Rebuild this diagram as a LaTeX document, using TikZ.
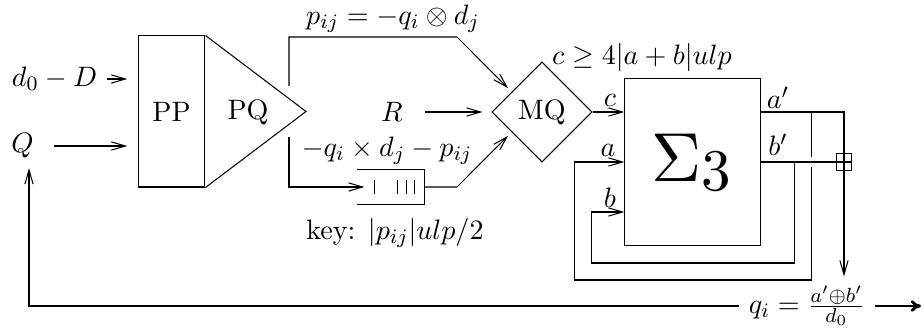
\documentclass[tikz,border=0pt,11pt]{standalone}
\usepackage{amsmath,amssymb}
\usetikzlibrary{arrows.meta,positioning,calc,shapes.geometric}
\tikzset{
  blockbox/.style={draw, thin, minimum width=26.1pt, minimum height=58.9pt, inner sep=0pt},
  sumbox/.style={draw, thin, minimum width=52.7pt, minimum height=65.5pt, inner sep=0pt},
  mqdiamond/.style={draw, thin, diamond, minimum width=39pt, minimum height=39pt, inner sep=0pt},
  plusbox/.style={draw, thin, minimum width=6.2pt, minimum height=7pt, inner sep=0pt},
  queuebox/.style={minimum width=26.1pt, minimum height=13.3pt, inner sep=0pt},
  arrow/.style={-{Straight Barb[length=5.5pt,width=3.2pt]}, thin},
  wire/.style={thin},
  outarrow/.style={-{To[length=4pt,width=4.5pt]}, line width=1.1pt}
}

\begin{document}
\begin{tikzpicture}[x=0.39pt, y=-0.39pt]
  \useasboundingbox (0,0) rectangle (922,335);

  \node[blockbox] (pp) at (171.5,111.5) {PP};
  \coordinate (pqtip) at (306,111.5);
  \draw[wire] (pp.north east) -- (pqtip) -- (pp.south east);
  \node (pq) at (248,112) {PQ};

  \node (din) at (54.5,79) {$d_0-D$};
  \node (qin) at (22.5,146) {$Q$};
  \draw[arrow, shorten >=4pt] (din.east) -- (din.east -| pp.west);
  \draw[arrow, shorten <=4.2pt, shorten >=4pt] (qin.east) -- (qin.east -| pp.west);

  \node[mqdiamond] (mq) at (542,112) {MQ};
  \node (rin) at (392,112) {$R$};
  \draw[arrow, shorten <=5pt, shorten >=3.5pt] (rin.east) -- (mq.west);

  \coordinate (pqup) at (289,86);
  \coordinate (pqlow) at (289,137);
  \node[queuebox] (queue) at (390.5,187) {};
  \draw[wire] (queue.north west) -- (queue.north east) -- (queue.south east) -- (queue.south west);
  \foreach \tx in {18,41,50,58}
    \draw[wire] ($(queue.north west)+(\tx,11)$) -- ++(0,14);

  \draw[arrow, shorten >=2pt] (pqup) |- (457,37) -- ($(mq.west)!0.4!(mq.north)$);
  \draw[arrow] (pqlow) |- ($(queue.west)+(8,0)$);
  \draw[arrow, shorten >=2pt] (queue.east) -- (457,187) -- ($(mq.west)!0.4!(mq.south)$);

  \node[inner sep=1pt] (plbl) at (393,19) {$p_{ij}=-q_i\otimes d_j$};
  \node (mlbl) at (387,151) {$-q_i\times d_j-p_{ij}$};
  \node (keylbl) at (395,233) {key: $|p_{ij}|ulp/2$};

  \node[sumbox] (sig) at (692.5,162) {};
  \node (sigtxt) at (691.5,163) {\scalebox{2.47}{$\Sigma$}\raisebox{-3.6pt}{\scalebox{2.1}{3}}};
  \node (clbl) at (642,57) {$c\geq 4|a+b|ulp$};

  \coordinate (cin) at ($(sig.west)+(0,-50)$);
  \coordinate (ain) at (sig.west);
  \coordinate (bin) at ($(sig.west)+(0,50)$);
  \coordinate (aout) at ($(sig.east)+(0,-50)$);
  \coordinate (bout) at (sig.east);
  \node (cport) at (610,100) {$c$};
  \node (aport) at (608,150) {$a$};
  \node (bport) at (610,198) {$b$};
  \node (apport) at (778,98) {$a'$};
  \node (bpport) at (778,145) {$b'$};

  \draw[arrow] (mq.east) -- (cin);

  \node[plusbox] (plus) at (844,162) {};
  \node (qlbl) at (807,306) {$q_i=\frac{a'\oplus b'}{d_0}$};
  \draw[arrow] (aout) -| (plus |- qlbl.north);
  \draw[wire] (bout) -- (plus.east);

  \coordinate (aloop) at ($(aout)+(51,0)$);
  \draw[wire] (aloop) -- ($(aloop |- bout)+(0,-5)$);
  \draw[arrow] ($(aloop |- bout)+(0,5)$) |- ($(ain)+(-50,118)$) |- (ain);
  \coordinate (bloop) at ($(bout)+(33.5,0)$);
  \draw[arrow] (bloop) |- ($(bin)+(-33,51)$) |- (bin);

  \draw[arrow] (qlbl.west) -| ($(qin.south)+(6.5,0)$);
  \coordinate (qout) at (921,306);
  \draw[outarrow] (qlbl.east) -- (qout);
\end{tikzpicture}
\end{document}
